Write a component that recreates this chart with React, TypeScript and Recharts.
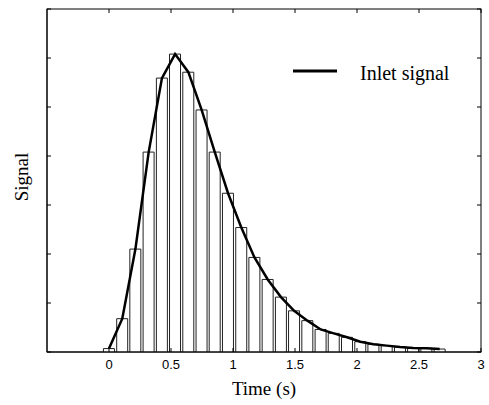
import React from 'react';
import { ComposedChart, Bar, Line, XAxis, YAxis, Legend, Label, ReferenceArea } from 'recharts';

const times = [0, 0.107, 0.213, 0.32, 0.427, 0.533, 0.64, 0.747, 0.853, 0.96, 1.067, 1.173, 1.28, 1.387, 1.493, 1.6, 1.707, 1.813, 1.92, 2.027, 2.133, 2.24, 2.347, 2.453, 2.56, 2.667];
const signal = [0.07, 0.68, 2.1, 4.08, 5.59, 6.08, 5.71, 4.94, 4.08, 3.24, 2.54, 1.93, 1.48, 1.12, 0.84, 0.64, 0.46, 0.38, 0.3, 0.21, 0.16, 0.13, 0.1, 0.08, 0.075, 0.06];
const xTicks = [0, 0.5, 1, 1.5, 2, 2.5, 3];
const yTicks = [0, 1, 2, 3, 4, 5, 6, 7];
const xDomain = [-0.5, 3];
const yDomain = [0, 7];
const seriesName = 'Inlet signal';
const xLabel = 'Time (s)';
const yLabel = 'Signal';

const data = times.map((t, i) => ({ t, v: signal[i] }));

const SERIF = '"Liberation Serif", "Times New Roman", serif';
const SANS = '"Liberation Sans", Arial, sans-serif';
const TICK = 4;

const BottomTick = (p: any) => (
  <g>
    <line x1={p.x} x2={p.x} y1={p.y} y2={p.y - TICK} stroke="#000" strokeWidth={1} />
    <text x={p.x} y={p.y + 17} textAnchor="middle" fontFamily={SANS} fontSize={13} fill="#000">
      {p.payload.value}
    </text>
  </g>
);
const LeftTick = (p: any) => (
  <line x1={p.x} x2={p.x + TICK} y1={p.y} y2={p.y} stroke="#000" strokeWidth={1} />
);

// Frame box with mirrored inward ticks on top and right sides
const FrameShape = (p: any) => {
  const { x, y, width, height } = p;
  const fx = (t: number) => x + ((t - xDomain[0]) / (xDomain[1] - xDomain[0])) * width;
  const fy = (v: number) => y + height - ((v - yDomain[0]) / (yDomain[1] - yDomain[0])) * height;
  return (
    <g>
      <rect x={x} y={y} width={width} height={height} fill="none" stroke="#000" strokeWidth={1} />
      {xTicks.map((t) => (
        <line key={'tx' + t} x1={fx(t)} x2={fx(t)} y1={y} y2={y + TICK} stroke="#000" strokeWidth={1} />
      ))}
      {yTicks.map((v) => (
        <line key={'ty' + v} x1={x + width} x2={x + width - TICK} y1={fy(v)} y2={fy(v)} stroke="#000" strokeWidth={1} />
      ))}
    </g>
  );
};

const renderLegend = (props: any) => {
  const items = (props.payload || []).filter((e: any) => e.type !== 'none');
  return (
    <svg width={190} height={32} style={{ display: 'block' }}>
      {items.map((e: any, i: number) => (
        <g key={i}>
          <line x1={3} x2={47} y1={13} y2={13} stroke="#000" strokeWidth={3} />
          <text x={70} y={22} fontFamily={SERIF} fontSize={20} fill="#000">{e.value}</text>
        </g>
      ))}
    </svg>
  );
};

export default function App() {
  return (
    <div style={{ position: 'absolute', left: 0, top: 0 }}>
      <ComposedChart width={489} height={405} data={data} margin={{ top: 9, right: 8, bottom: 0, left: 0 }}>
        <XAxis
          xAxisId="b"
          dataKey="t"
          type="number"
          domain={xDomain}
          ticks={xTicks}
          allowDataOverflow
          height={53}
          stroke="#000"
          tickLine={false}
          tickSize={0}
          tickMargin={0}
          tick={<BottomTick />}
          interval={0}
        >
          <Label
            content={(lp: any) => {
              const vb = lp.viewBox;
              return (
                <text x={vb.x + vb.width / 2} y={vb.y + 43} textAnchor="middle" fontFamily={SERIF} fontSize={19} fill="#000">
                  {xLabel}
                </text>
              );
            }}
          />
        </XAxis>
        <YAxis
          yAxisId="l"
          type="number"
          domain={yDomain}
          ticks={yTicks}
          allowDataOverflow
          width={47}
          stroke="#000"
          tickLine={false}
          tickSize={0}
          tickMargin={0}
          tick={<LeftTick />}
          interval={0}
        >
          <Label
            content={() => {
              const cx = 28;
              const cy = 177;
              return (
                <text x={cx} y={cy} transform={`rotate(-90, ${cx}, ${cy})`} textAnchor="middle" fontFamily={SERIF} fontSize={19} fill="#000">
                  {yLabel}
                </text>
              );
            }}
          />
        </YAxis>
        <Legend
          content={renderLegend}
          layout="horizontal"
          verticalAlign="middle"
          align="center"
          wrapperStyle={{ left: 290, top: 58, width: 190, height: 32 }}
        />
        <ReferenceArea
          xAxisId="b"
          yAxisId="l"
          x1={xDomain[0]}
          x2={xDomain[1]}
          y1={yDomain[0]}
          y2={yDomain[1]}
          ifOverflow="visible"
          shape={(p: any) => <FrameShape {...p} />}
        />
        <Bar
          xAxisId="b"
          yAxisId="l"
          dataKey="v"
          barSize={11}
          fill="#fff"
          stroke="#222"
          strokeWidth={1}
          legendType="none"
          isAnimationActive={false}
        />
        <Line
          xAxisId="b"
          yAxisId="l"
          dataKey="v"
          name={seriesName}
          type="linear"
          stroke="#000"
          strokeWidth={2.5}
          dot={false}
          activeDot={false}
          isAnimationActive={false}
        />
      </ComposedChart>
    </div>
  );
}
